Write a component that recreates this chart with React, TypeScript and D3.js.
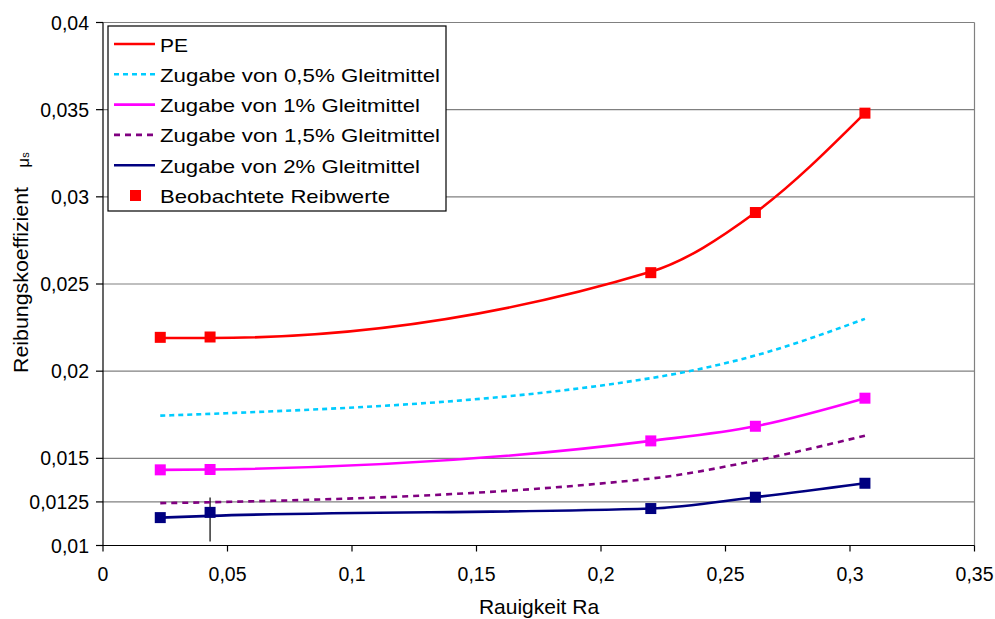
import * as d3 from 'd3'

const roughness = [0.023, 0.043, 0.22, 0.262, 0.306]

// fitted curves (lines)
const pe = [0.0219, 0.0219, 0.0257, 0.0291, 0.0348]
const glide05 = [0.01745, 0.01755, 0.0196, 0.0209, 0.023]
const glide1 = [0.01434, 0.01436, 0.016, 0.01684, 0.01845]
const glide15 = [0.01243, 0.01248, 0.01384, 0.01487, 0.0163]
const glide2 = [0.0116, 0.0117, 0.01212, 0.01277, 0.01357]

// observed values (markers)
const observedPe = [0.02194, 0.02196, 0.02565, 0.0291, 0.0348]
const observed1 = [0.01434, 0.01436, 0.016, 0.01684, 0.01845]
const observed2 = [0.0116, 0.0119, 0.01212, 0.01277, 0.01357]

const errorBar = { x: 0.043, low: 0.01023, high: 0.01275 }

const xTicks = [0, 0.05, 0.1, 0.15, 0.2, 0.25, 0.3, 0.35]
const yTicks = [0.01, 0.0125, 0.015, 0.02, 0.025, 0.03, 0.035, 0.04]

const seriesNames = [
  'PE',
  'Zugabe von 0,5% Gleitmittel',
  'Zugabe von 1% Gleitmittel',
  'Zugabe von 1,5% Gleitmittel',
  'Zugabe von 2% Gleitmittel',
]
const observedName = 'Beobachtete Reibwerte'

const series = [
  { name: seriesNames[0], values: pe, color: '#ff0000', dash: undefined, observed: observedPe },
  { name: seriesNames[1], values: glide05, color: '#00ccff', dash: '5 4', observed: null },
  { name: seriesNames[2], values: glide1, color: '#ff00ff', dash: undefined, observed: observed1 },
  { name: seriesNames[3], values: glide15, color: '#800080', dash: '6 5', observed: null },
  { name: seriesNames[4], values: glide2, color: '#000080', dash: undefined, observed: observed2 },
]

const font = '"Liberation Sans", Arial, sans-serif'
const fmt = (v: number) => String(v).replace('.', ',')

export default function App() {
  const width = 995
  const height = 619
  const left = 103
  const right = 974.5
  const top = 22.5
  const bottom = 545.5

  const x = d3.scaleLinear().domain([0, 0.35]).range([left, right])
  const y = d3.scaleLinear().domain([0.01, 0.04]).range([bottom, top])

  const line = d3
    .line<number>()
    .x((_, i) => x(roughness[i]))
    .y((d) => y(d))
    .curve(d3.curveMonotoneX)

  const legendX = 108
  const legendY = 26
  const rowGap = 30.3

  return (
    <div style={{ position: 'absolute', left: 0, top: 0 }}>
      <svg width={width} height={height} viewBox={`0 0 ${width} ${height}`} style={{ display: 'block', fontFamily: font }}>
        <rect x={0} y={0} width={width} height={height} fill="#ffffff" />

        {/* grid */}
        {yTicks.slice(1).map((t) => (
          <line key={t} x1={left} x2={right} y1={y(t)} y2={y(t)} stroke="#808080" strokeWidth={1.2} />
        ))}
        <line x1={right} x2={right} y1={top} y2={bottom} stroke="#808080" strokeWidth={1.2} />

        {/* axes */}
        <line x1={left} x2={left} y1={top} y2={bottom} stroke="#000" strokeWidth={1.2} />
        <line x1={left} x2={right} y1={bottom} y2={bottom} stroke="#000" strokeWidth={1.2} />

        {yTicks.map((t) => (
          <g key={t} transform={`translate(0,${y(t)})`}>
            <line x1={left - 7} x2={left} y1={0} y2={0} stroke="#000" strokeWidth={1.2} />
            <text x={89} y={7} textAnchor="end" fontSize={19.5} fill="#000">
              {fmt(t)}
            </text>
          </g>
        ))}

        {xTicks.map((t) => (
          <g key={t} transform={`translate(${x(t)},0)`}>
            <line x1={0} x2={0} y1={bottom} y2={bottom + 6} stroke="#000" strokeWidth={1.2} />
            <text x={0} y={bottom + 35} textAnchor="middle" fontSize={19.5} fill="#000">
              {fmt(t)}
            </text>
          </g>
        ))}

        {/* axis titles */}
        <text x={539} y={614} textAnchor="middle" fontSize={21} fill="#000">
          Rauigkeit Ra
        </text>
        <text
          transform="translate(28,280) rotate(-90)"
          textAnchor="middle"
          fontSize={20}
          fill="#000"
          textLength={186}
          lengthAdjust="spacingAndGlyphs"
        >
          Reibungskoeffizient
        </text>
        <text transform="translate(29,160) rotate(-90)" textAnchor="middle" fontSize={17} fill="#000">
          μ<tspan fontSize={11}>s</tspan>
        </text>

        {/* error bar */}
        <line
          x1={x(errorBar.x)}
          x2={x(errorBar.x)}
          y1={y(errorBar.low)}
          y2={y(errorBar.high)}
          stroke="#000"
          strokeWidth={1.2}
        />

        {/* curves */}
        {series.map((s) => (
          <path
            key={s.name}
            d={line(s.values) ?? ''}
            fill="none"
            stroke={s.color}
            strokeWidth={2.6}
            strokeDasharray={s.dash}
          />
        ))}

        {/* observed markers */}
        {series.map((s) =>
          s.observed
            ? s.observed.map((v, i) => (
                <rect
                  key={`${s.name}-${i}`}
                  x={x(roughness[i]) - 5.5}
                  y={y(v) - 5.5}
                  width={11}
                  height={11}
                  fill={s.color}
                />
              ))
            : null,
        )}

        {/* legend */}
        <rect x={legendX} y={legendY} width={338} height={185} fill="#fff" stroke="#000" strokeWidth={1.2} />
        {series.map((s, i) => {
          const cy = legendY + 18 + i * rowGap
          return (
            <g key={s.name}>
              <line x1={114} x2={155} y1={cy} y2={cy} stroke={s.color} strokeWidth={2.6} strokeDasharray={s.dash} />
              <text
                x={160}
                y={cy + 7.5}
                fontSize={19}
                fill="#000"
                textLength={i === 0 ? 28 : i === 1 || i === 3 ? 280 : 260}
                lengthAdjust="spacingAndGlyphs"
              >
                {s.name}
              </text>
            </g>
          )
        })}
        <rect x={130} y={legendY + 18 + 5 * rowGap - 5.5} width={11} height={11} fill="#ff0000" />
        <text
          x={160}
          y={legendY + 18 + 5 * rowGap + 7.5}
          fontSize={19}
          fill="#000"
          textLength={230}
          lengthAdjust="spacingAndGlyphs"
        >
          {observedName}
        </text>
      </svg>
    </div>
  )
}
